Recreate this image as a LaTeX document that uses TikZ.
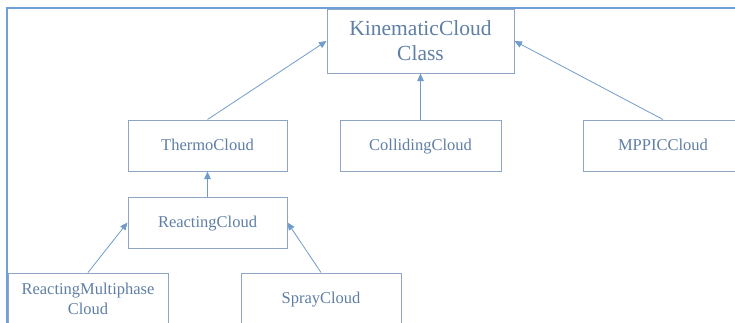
\documentclass[tikz,border=0pt]{standalone}
\usepackage{fontspec}
\setmainfont{Liberation Serif}
\usetikzlibrary{arrows.meta,positioning}
\definecolor{cTxt}{HTML}{5F7FA5}
\definecolor{cBox}{HTML}{8EA6C2}
\definecolor{cLnk}{HTML}{6F9CCB}
\definecolor{cFrm}{HTML}{6FA0DA}
\tikzset{
  cls/.style ={draw=cBox,fill=white,line width=1pt,text=cTxt,align=center,
               inner sep=0pt,minimum height=51pt,minimum width=160pt,
               font=\fontsize{16.5}{20}\selectfont},
  one/.style ={text height=10pt,text depth=1pt},
  inh/.style ={-{Triangle[length=7.5pt,width=6.5pt]},draw=cLnk,line width=0.8pt},
  frm/.style ={draw=cFrm,line width=1.2pt},
}

\begin{document}
\begin{tikzpicture}[x=1pt,y=-1pt]
\useasboundingbox (0,0) rectangle (735,322);
\clip (0,0) rectangle (735,322);

% ===== outer frame ======================================================
\draw[frm] (7,330) -- (7,8) -- (745,8);

% ===== base class =======================================================
\node[cls,minimum width=187pt,minimum height=64pt,
      font=\fontsize{21.5}{25}\selectfont] (kin) at (420.5,41)
  {KinematicCloud\\Class};

% ===== derived clouds ===================================================
\node[cls,one,minimum width=159pt] (thermo) at (207.5,145.5) {ThermoCloud};
\node[cls,one,minimum width=161pt] (coll)   at (420.5,145.5) {CollidingCloud};
\node[cls,one]                     (mppic)  at (663,145.5)   {MPPICCloud};
\node[cls,one,minimum width=159pt] (react)  at (207.5,222.5) {ReactingCloud};
\node[cls]                         (rmc)    at (88,298.5)
  {ReactingMultiphase\\Cloud};
\node[cls,one]                     (spray)  at (321,298.5)   {SprayCloud};

% ===== inheritance ======================================================
\draw[inh] (thermo.north) -- (kin.west);
\draw[inh] (coll.north)   -- (kin.south);
\draw[inh] (mppic.north)  -- (kin.east);
\draw[inh] (react.north)  -- (thermo.south);
\draw[inh] (rmc.north)    -- (react.west);
\draw[inh] (spray.north)  -- (react.east);
\end{tikzpicture}
\end{document}
